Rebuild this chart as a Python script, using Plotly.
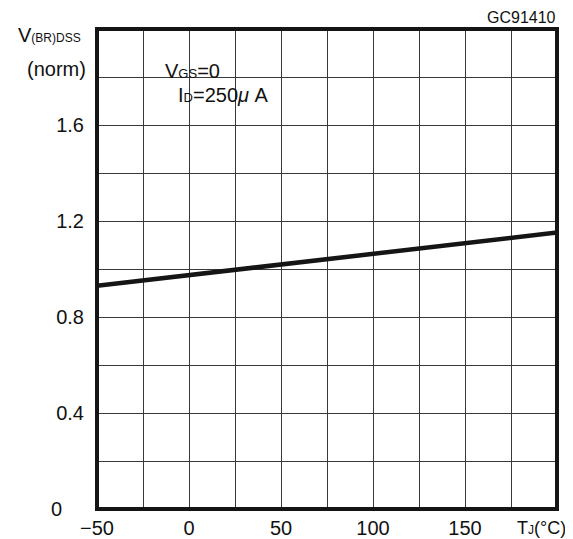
import plotly.graph_objects as go

# Data
tj = [-50, 0, 25, 50, 100, 150, 200]
v_norm = [0.93, 0.975, 0.997, 1.02, 1.065, 1.108, 1.152]

x_tickvals = [-50, 0, 50, 100, 150]
x_ticktext = ["\u221250", "0", "50", "100", "150"]
x_unit_label = "T<span style='font-size:12px'>J</span>(\u00b0C)"
y_tickvals = [0.4, 0.8, 1.2, 1.6]
y_ticktext = ["0.4", "0.8", "1.2", "1.6"]

FONT = "Liberation Sans, Arial, sans-serif"
GRID = "#3a3a3a"
TXT = "#111"

fig = go.Figure()
fig.add_trace(go.Scatter(x=tj, y=v_norm, mode="lines",
                         line=dict(color="#151515", width=4.5),
                         showlegend=False, hoverinfo="skip"))

# page body has an 8px margin, so the figure is offset by 8px
fig.update_layout(
    width=565, height=531,
    margin=dict(l=89, r=16, t=21, b=30, autoexpand=False),
    paper_bgcolor="white", plot_bgcolor="white",
    font=dict(family=FONT, size=20, color=TXT),
    xaxis=dict(range=[-50, 200], tickvals=x_tickvals, ticktext=x_ticktext,
               automargin=False,
               showgrid=True, gridcolor=GRID, gridwidth=1,
               minor=dict(dtick=25, tick0=0, showgrid=True, gridcolor=GRID, gridwidth=1),
               ticks="outside", ticklen=1, tickcolor="rgba(0,0,0,0)",
               zeroline=False, showline=False,
               tickfont=dict(family=FONT, size=20, color=TXT)),
    yaxis=dict(range=[0, 2.0], tickvals=y_tickvals, ticktext=y_ticktext,
               automargin=False,
               showgrid=True, gridcolor=GRID, gridwidth=1,
               minor=dict(dtick=0.2, tick0=0, showgrid=True, gridcolor=GRID, gridwidth=1),
               ticks="outside", ticklen=8, tickcolor="rgba(0,0,0,0)",
               zeroline=False, showline=False,
               tickfont=dict(family=FONT, size=20, color=TXT)),
    shapes=[dict(type="rect", xref="paper", yref="paper", x0=0, x1=1, y0=0, y1=1,
                 line=dict(color="#151515", width=4), layer="above")],
)

ann = [
    dict(text="V<span style='font-size:12px'>(BR)DSS</span>", x=0, y=0.9875, xshift=-14,
         xanchor="right", yanchor="middle"),
    dict(text="(norm)", x=0, y=0.9167, xshift=-9, xanchor="right", yanchor="middle"),
    dict(text="0", x=0, y=0, xshift=-41, xanchor="center", yanchor="middle"),
    dict(text=x_unit_label, x=1, y=0, xshift=11, yshift=-19, xanchor="right", yanchor="middle",
         font=dict(family=FONT, size=18, color=TXT)),
    dict(text="GC91410", x=1, y=1.023, xshift=1, xanchor="right", yanchor="middle",
         font=dict(family=FONT, size=16, color=TXT)),
    dict(text="V<span style='font-size:13px'>GS</span>=0", x=0.1435, y=0.9125,
         xanchor="left", yanchor="middle"),
    dict(text="I<span style='font-size:13px'>D</span>=250<i>\u03bc</i> A", x=0.172, y=0.862,
         xanchor="left", yanchor="middle"),
]
for a in ann:
    a.setdefault("font", dict(family=FONT, size=20, color=TXT))
    fig.add_annotation(xref="paper", yref="paper", showarrow=False, **a)

fig.write_html("out.html")
